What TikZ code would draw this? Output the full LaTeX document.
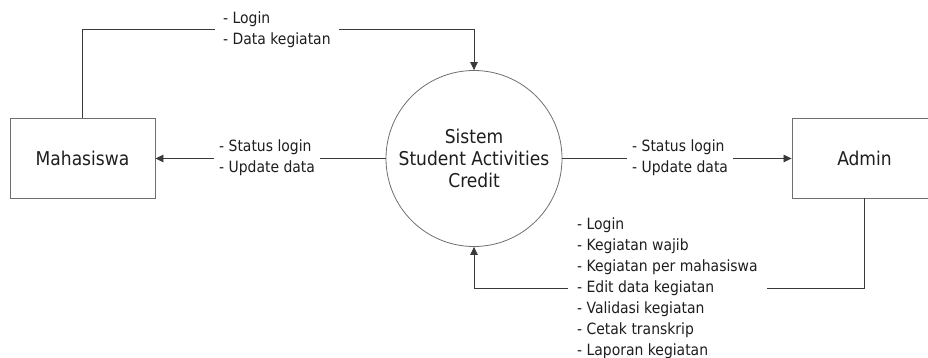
\documentclass[tikz,border=0pt]{standalone}
\usepackage{fontspec}
\setmainfont{DejaVu Sans Condensed}
\usetikzlibrary{arrows.meta}
\definecolor{edgegray}{HTML}{6E6E6E}
\definecolor{linegray}{HTML}{3A3A3A}
\definecolor{inkgray}{HTML}{1E1E1E}
\begin{document}
\begin{tikzpicture}[x=1pt,y=-1pt,
  entity/.style={draw=edgegray,line width=0.9pt,minimum width=145pt,minimum height=80pt,
    inner sep=0pt,text=inkgray,font=\fontsize{19}{22}\selectfont},
  process/.style={draw=edgegray,line width=0.8pt,circle,minimum size=176pt,inner sep=0pt,
    align=center,text=inkgray,font=\fontsize{19}{22}\selectfont},
  flow/.style={draw=linegray,line width=0.8pt,-{Triangle[length=8pt,width=7.5pt]}},
  flowlabel/.style={anchor=west,fill=white,align=left,inner ysep=0pt,text=inkgray,
    font=\fontsize{15.5}{21}\selectfont}]
  \useasboundingbox (0,0) rectangle (928,358);
  \clip (0,0) rectangle (928,358);

  % external entities and the process
  \node[entity] (mhs) at (82.5,158) {Mahasiswa};
  \node[entity] (adm) at (864.5,158) {Admin};
  \node[process] (sys) at (474,158.5) {Sistem\\Student Activities\\Credit};

  % data flows
  \draw[flow] (mhs.north) -- ++(0,-88) coordinate (mtop) -| (sys.north);
  \draw[flow] (sys.west) -- (sys.west -| mhs.east);
  \draw[flow] (sys.east) -- (sys.east -| adm.west);
  \draw[flow] (adm.south) -- ++(0,90) coordinate (abot) -| (sys.south);

  % flow labels
  \node[flowlabel,inner xsep=8pt] (ltop) at (215,30) {- Login\\- Data kegiatan};
  \node[flowlabel,inner xsep=5pt] (lleft) at (214,158) {- Status login\\- Update data};
  \node[flowlabel,inner xsep=5pt] (lright) at (627,158) {- Status login\\- Update data};
  \node[flowlabel,inner xsep=9pt] (lbot) at (568,288)
    {- Login\\- Kegiatan wajib\\- Kegiatan per mahasiswa\\- Edit data kegiatan\\- Validasi kegiatan\\- Cetak transkrip\\- Laporan kegiatan};
\end{tikzpicture}
\end{document}
